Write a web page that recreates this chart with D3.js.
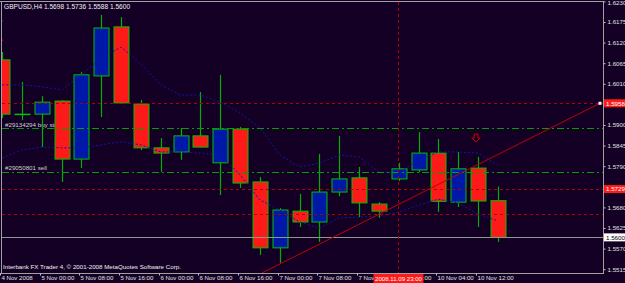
<!DOCTYPE html>
<html><head><meta charset="utf-8">
<script src="https://cdn.jsdelivr.net/npm/d3@7/dist/d3.min.js"></script>
<style>
html,body{margin:0;padding:0;background:#140024;overflow:hidden}
svg{display:block}
text{font-family:"Liberation Sans",Arial,sans-serif}
</style></head><body>
<svg id="c" width="625" height="283"></svg>
<script>
// ---------- data ----------
const titleText = "GBPUSD,H4 1.5698 1.5736 1.5588 1.5600";
const copyrightText = "Interbank FX Trader 4, \u00A9 2001-2008 MetaQuotes Software Corp.";
const opens  = [1.6074,1.5929,1.5929,1.5964,1.5809,1.6031,1.6162,1.5956,1.5839,1.5828,1.5871,1.5799,1.5889,1.5748,1.5572,1.5670,1.5641,1.5721,1.5759,1.5689,1.5756,1.5780,1.5825,1.5694,1.5785,1.5698];
const highs  = [1.6095,1.6015,1.5977,1.5966,1.6042,1.6194,1.6188,1.5967,1.5865,1.5892,1.5988,1.6034,1.5895,1.5761,1.5678,1.5716,1.5823,1.5871,1.5788,1.5694,1.5799,1.5881,1.5863,1.5828,1.5815,1.5736];
const lows   = [1.5919,1.5913,1.5841,1.5748,1.5785,1.5921,1.5957,1.5833,1.5775,1.5807,1.5840,1.5713,1.5732,1.5553,1.5532,1.5628,1.5588,1.5710,1.5654,1.5652,1.5750,1.5774,1.5668,1.5681,1.5628,1.5588];
const closes = [1.5929,1.5929,1.5961,1.5809,1.6034,1.6159,1.5959,1.5839,1.5825,1.5871,1.5841,1.5889,1.5745,1.5572,1.5673,1.5641,1.5721,1.5756,1.5692,1.5670,1.5783,1.5825,1.5696,1.5783,1.5697,1.5600];
const maFast = [1.6007,1.6007,1.6002,1.5994,1.6034,1.6079,1.6108,1.6063,1.6007,1.5980,1.5980,1.5961,1.5932,1.5892,1.5820,1.5788,1.5798,1.5820,1.5815,1.5774,1.5774,1.5806,1.5828,1.5828,1.5825,1.5793];
const maSlow = [1.5812,1.5833,1.5841,1.5839,1.5839,1.5847,1.5855,1.5847,1.5828,1.5828,1.5825,1.5820,1.5767,1.5700,1.5673,1.5641,1.5625,1.5652,1.5654,1.5657,1.5668,1.5686,1.5702,1.5692,1.5662,1.5644];
const priceTicks = [1.5515,1.5570,1.5625,1.5680,1.5735,1.5790,1.5845,1.5900,1.5955,1.6010,1.6065,1.6120,1.6175,1.6230];
const timeTickIdx = [0,2,4,6,8,10,12,14,16,18,20,22,24];
const timeTickLabels = ["4 Nov 2008","5 Nov 00:00","5 Nov 08:00","5 Nov 16:00","6 Nov 00:00","6 Nov 08:00","6 Nov 16:00","7 Nov 00:00","7 Nov 08:00","7 Nov 16:00","9 Nov 23:00","10 Nov 04:00","10 Nov 12:00"];
const redLevels = [1.5958, 1.5729, 1.5663];
const redLevelLabels = ["1.5958", "1.5729", ""];
const orderLevels = [1.5891, 1.5775];
const orderTexts = ["#29134294 buy stop", "#29050801 sell"];
const bidPrice = 1.5600;
const bidLabel = "1.5600";
const trendPts = [[13.1, 1.5505], [30.15, 1.5958]];
const vlineIdx = 20;
const vlineLabel = "2008.11.09 23:00";
const arrowPt = [23.9, 1.5865];

// ---------- layout ----------
const svg = d3.select("#c");
const W = 625, H = 283, axisX = 603, plotTop = 2, plotBottom = 273;
const x = d3.scaleLinear().domain([0, 25]).range([2.17, 497.9]);
const y = d3.scaleLinear().domain([1.5515, 1.6230]).range([269.2, 1.4]);
const candles = opens.map((o, i) => ({i, o, h: highs[i], l: lows[i], c: closes[i]}));

svg.append("rect").attr("width", W).attr("height", H).attr("fill", "#140024");
svg.append("defs").append("clipPath").attr("id", "clip")
  .append("rect").attr("x", 2).attr("y", plotTop).attr("width", axisX - 2).attr("height", plotBottom - plotTop);

const plot = svg.append("g").attr("clip-path", "url(#clip)");

// order texts (behind candles)
plot.selectAll("text.ord").data(orderLevels).join("text")
  .attr("x", 5).attr("y", d => y(d) - 1.5)
  .attr("font-size", 6.2).attr("fill", "#d0d0d0")
  .text((d, k) => orderTexts[k]);

// candles
const cg = plot.append("g");
cg.selectAll("line.wick").data(candles).join("line")
  .attr("x1", d => Math.round(x(d.i)) + 0.5).attr("x2", d => Math.round(x(d.i)) + 0.5)
  .attr("y1", d => y(d.h)).attr("y2", d => y(d.l))
  .attr("stroke", "#00b000").attr("stroke-width", 1.2);
cg.selectAll("rect.body").data(candles).join("rect")
  .attr("x", d => Math.round(x(d.i)) - 7).attr("width", 15)
  .attr("y", d => y(Math.max(d.o, d.c)))
  .attr("height", d => Math.max(0.5, Math.abs(y(d.o) - y(d.c))))
  .attr("fill", d => d.c < d.o ? "#ff1a1a" : (d.c > d.o ? "#0018a8" : "#00c000"))
  .attr("stroke", "#00c000").attr("stroke-width", 1);

// moving averages
const maLine = d3.line().x((d, i) => x(i)).y(d => y(d));
[maFast, maSlow].forEach(arr => {
  plot.append("path").attr("d", maLine(arr)).attr("fill", "none")
    .attr("stroke", "#1414a8").attr("stroke-width", 1).attr("stroke-dasharray", "2,2");
});

// horizontal levels
plot.selectAll("line.red").data(redLevels).join("line")
  .attr("x1", 2).attr("x2", axisX).attr("y1", d => Math.round(y(d)) + 0.5).attr("y2", d => Math.round(y(d)) + 0.5)
  .attr("stroke", "#b00000").attr("stroke-width", 1).attr("stroke-dasharray", "3,3");
plot.selectAll("line.ord").data(orderLevels).join("line")
  .attr("x1", 2).attr("x2", axisX).attr("y1", d => Math.round(y(d)) + 0.5).attr("y2", d => Math.round(y(d)) + 0.5)
  .attr("stroke", "#00a000").attr("stroke-width", 1).attr("stroke-dasharray", "7,3,2,3");
plot.append("line").attr("x1", 2).attr("x2", axisX)
  .attr("y1", Math.round(y(bidPrice)) + 0.5).attr("y2", Math.round(y(bidPrice)) + 0.5)
  .attr("stroke", "#8a9a8a").attr("stroke-width", 1);

// vertical line
plot.append("line").attr("x1", Math.round(x(vlineIdx)) - 0.5).attr("x2", Math.round(x(vlineIdx)) - 0.5)
  .attr("y1", plotTop).attr("y2", plotBottom)
  .attr("stroke", "#b00000").attr("stroke-width", 1).attr("stroke-dasharray", "3,3");

// trend line
plot.append("line")
  .attr("x1", x(trendPts[0][0])).attr("y1", y(trendPts[0][1]))
  .attr("x2", x(trendPts[1][0])).attr("y2", y(trendPts[1][1]))
  .attr("stroke", "#c00000").attr("stroke-width", 1);
svg.append("rect").attr("x", x(trendPts[1][0]) - 1.5).attr("y", y(trendPts[1][1]) - 1.5)
  .attr("width", 3).attr("height", 3).attr("fill", "#ffffff");

// down arrow
const ax = x(arrowPt[0]), ay = y(arrowPt[1]);
plot.append("path")
  .attr("d", `M${ax-2},${ay-4} L${ax+2},${ay-4} L${ax+2},${ay} L${ax+4},${ay} L${ax},${ay+4} L${ax-4},${ay} L${ax-2},${ay} Z`)
  .attr("fill", "none").attr("stroke", "#d00000").attr("stroke-width", 1);
// clipped arrows at left edge
plot.append("path").attr("d", "M-1,17 L3,21 L1,21 L1,24 L-1,24 Z").attr("fill", "none").attr("stroke", "#2020c0");
plot.append("path").attr("d", "M-1,36 L1,36 L1,40 L3,40 L-1,44 Z").attr("fill", "none").attr("stroke", "#d00000");

// title & copyright
svg.append("text").attr("x", 4).attr("y", 8.5).attr("font-size", 6.6).attr("fill", "#f0f0f0").text(titleText);
svg.append("text").attr("x", 3).attr("y", 269).attr("font-size", 6.2).attr("fill", "#f0f0f0").text(copyrightText);

// frame
svg.append("line").attr("x1", 0).attr("x2", axisX).attr("y1", 1.5).attr("y2", 1.5).attr("stroke", "#a0a0a0");
svg.append("line").attr("x1", 1.5).attr("x2", 1.5).attr("y1", 1).attr("y2", plotBottom).attr("stroke", "#a0a0a0");
svg.append("line").attr("x1", axisX + 0.5).attr("x2", axisX + 0.5).attr("y1", 1).attr("y2", plotBottom + 1).attr("stroke", "#a0a0a0");
svg.append("line").attr("x1", 0).attr("x2", axisX).attr("y1", plotBottom + 0.5).attr("y2", plotBottom + 0.5).attr("stroke", "#a0a0a0");

// right price axis (labels hidden where a level box covers them, as in the reference)
const covered = p => redLevels.some((r, k) => redLevelLabels[k] && Math.abs(y(r) - y(p)) < 6) || Math.abs(y(bidPrice) - y(p)) < 6;
const ra = svg.append("g").attr("transform", `translate(${axisX + 0.5},0)`)
  .call(d3.axisRight(y).tickValues(priceTicks).tickSize(2).tickPadding(2).tickFormat(d3.format(".4f")));
ra.select(".domain").remove();
ra.selectAll(".tick line").attr("stroke", "#c0c0c0");
ra.selectAll(".tick text").attr("fill", "#e0e0e0").attr("font-size", 6.2)
  .attr("font-family", "Liberation Sans, Arial, sans-serif")
  .attr("dy", d => d === 1.6230 ? "0.55em" : "0.32em")
  .attr("display", d => covered(d) ? "none" : null);

// bottom time axis
const ba = svg.append("g").attr("transform", `translate(0,${plotBottom + 0.5})`)
  .call(d3.axisBottom(x).tickValues(timeTickIdx).tickSize(2).tickFormat((d, k) => timeTickLabels[k]));
ba.select(".domain").remove();
ba.selectAll(".tick").attr("transform", d => `translate(${Math.round(x(d)) - 1.5},0)`);
ba.selectAll(".tick line").attr("stroke", "#c0c0c0");
ba.selectAll(".tick text").attr("fill", "#e0e0e0").attr("font-size", 6.1)
  .attr("font-family", "Liberation Sans, Arial, sans-serif")
  .attr("text-anchor", "start").attr("x", 1).attr("y", 2).attr("dy", "0.71em");

// price level labels
function priceBox(price, label, bg, fg) {
  const cy = y(price);
  svg.append("rect").attr("x", 604).attr("y", cy - 4).attr("width", 21).attr("height", 8).attr("fill", bg);
  svg.append("text").attr("x", 606).attr("y", cy + 2.3).attr("font-size", 6.2).attr("fill", fg).text(label);
}
redLevels.forEach((p, k) => { if (redLevelLabels[k]) priceBox(p, redLevelLabels[k], "#ff1a1a", "#ffffff"); });
priceBox(bidPrice, bidLabel, "#ffffff", "#000000");

// vertical line time label
const vx = Math.round(x(vlineIdx)) - 0.5;
svg.append("rect").attr("x", vx - 25).attr("y", 274).attr("width", 50).attr("height", 9).attr("fill", "#ff1a1a");
svg.append("text").attr("x", vx).attr("y", 281).attr("text-anchor", "middle").attr("font-size", 6.1)
  .attr("fill", "#ffffff").text(vlineLabel);
</script>
</body></html>
